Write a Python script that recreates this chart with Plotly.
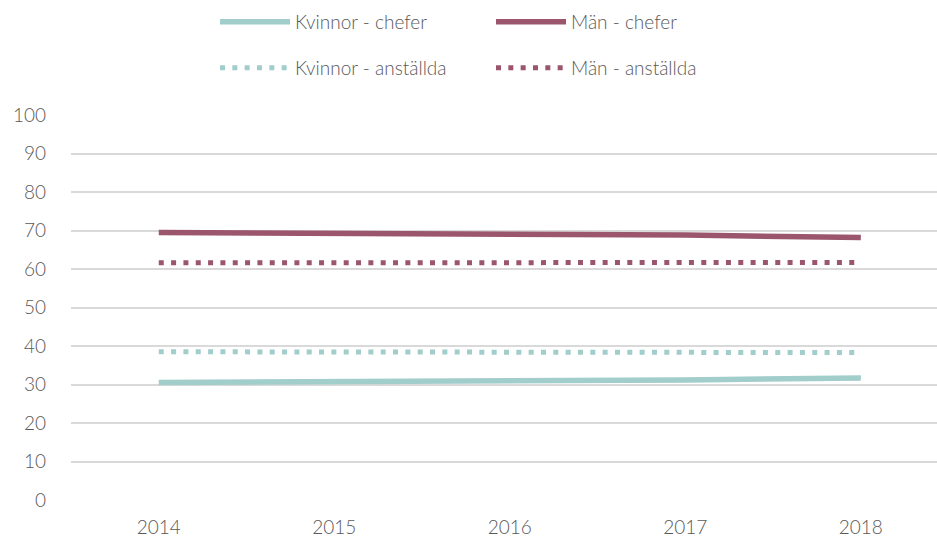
import plotly.graph_objects as go

years = [2014, 2015, 2016, 2017, 2018]
kvinnor_chefer = [30.5, 30.7, 30.8, 31.2, 31.7]
man_chefer = [69.5, 69.3, 69.2, 68.8, 68.2]
kvinnor_anstallda = [38.5, 38.5, 38.5, 38.4, 38.3]
man_anstallda = [61.6, 61.6, 61.6, 61.7, 61.7]

y_ticks = list(range(0, 101, 10))

TEAL = "#A1CDCB"
MAROON = "#9B566E"
TXT = "#595959"
FONT = "Lato"

fig = go.Figure()
fig.add_trace(go.Scatter(x=years, y=kvinnor_chefer, name="Kvinnor - chefer", mode="lines",
                         line=dict(color=TEAL, width=5.5), legend="legend"))
fig.add_trace(go.Scatter(x=years, y=man_chefer, name="Män - chefer", mode="lines",
                         line=dict(color=MAROON, width=5.5), legend="legend"))
fig.add_trace(go.Scatter(x=years, y=kvinnor_anstallda, name="Kvinnor - anställda", mode="lines",
                         line=dict(color=TEAL, width=5, dash="5px,7.33px"), legend="legend2"))
fig.add_trace(go.Scatter(x=years, y=man_anstallda, name="Män - anställda", mode="lines",
                         line=dict(color=MAROON, width=5, dash="5px,7.33px"), legend="legend2"))

leg_common = dict(orientation="h", xref="container", yref="container", xanchor="left", yanchor="middle",
                  font=dict(family=FONT, size=19, color=TXT, weight=300),
                  entrywidth=191, entrywidthmode="pixels", itemwidth=70, bgcolor="rgba(0,0,0,0)",
                  itemclick=False, itemdoubleclick=False)

fig.update_layout(
    width=937, height=543,
    margin=dict(l=71, r=0, t=115, b=43),
    paper_bgcolor="white", plot_bgcolor="white",
    font=dict(family=FONT, color=TXT, size=19, weight=300),
    legend=dict(**leg_common, x=215 / 937, y=1 - 22 / 543),
    legend2=dict(**leg_common, x=215 / 937, y=1 - 68 / 543),
    xaxis=dict(range=[2013.5, 2018.434], tickvals=years, ticktext=[str(y) for y in years],
               showgrid=False, zeroline=False, showline=False, ticks="", ticklabelstandoff=14,
               tickfont=dict(family=FONT, size=19, color=TXT, weight=300)),
    yaxis=dict(range=[0, 100], tickvals=y_ticks, showgrid=True, gridcolor="#D9D9D9", gridwidth=1.5,
               zeroline=False, showline=False, ticks="", ticklabelstandoff=24,
               tickfont=dict(family=FONT, size=19, color=TXT, weight=300)),
)

fig.write_html("out.html", config={"displayModeBar": False},
               post_script="document.body.style.margin='0';document.body.style.overflow='hidden';")
